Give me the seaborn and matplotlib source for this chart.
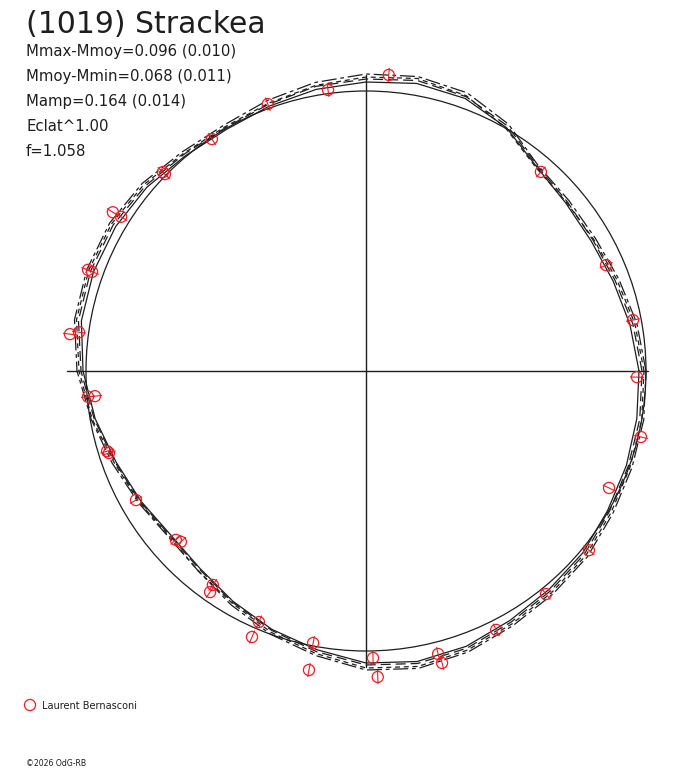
import numpy as np
import seaborn as sns
import matplotlib.pyplot as plt
from matplotlib.collections import LineCollection

# polar lightcurve of (1019) Strackea, radii in pixels, angles in degrees
angles = list(range(0, 360, 10))

curve_solid = [273, 268, 263, 260, 261, 266, 281, 290, 292, 289, 286, 282,
               279, 281, 286, 289, 290, 289, 283, 275, 266, 260, 255, 258,
               266, 275, 283, 292, 295, 293, 288, 285, 283, 279, 277, 275]
curve_dash = [276, 271, 265, 262, 263, 267, 283, 292, 295, 292, 289, 284,
              281, 283, 288, 292, 293, 292, 285, 276, 267, 261, 256, 259,
              267, 276, 285, 294, 297, 295, 290, 287, 285, 281, 279, 278]
curve_dashdot = [280, 275, 269, 265, 265, 268, 285, 296, 299, 297, 293, 288,
                 284, 286, 292, 296, 297, 296, 289, 279, 270, 263, 258, 261,
                 270, 280, 289, 299, 302, 299, 294, 291, 289, 285, 283, 282]
curve_short = [278, 273, 267, 263, 262, 265, 280, 293, 297, 294, 290, 285,
               282, 284, 290, 294, 295, 294, 287, 278, 268, 262, 257, 261,
               268, 278, 287, 297, 300, 297, 292, 289, 287, 283, 281, 280]

mean_radius = 280

# observations: phase angle (deg), radius, half error
obs_angle = [85.6, 97.7, 110.2, 123.6, 135.6, 135.6, 147.9, 147.8, 160.0, 160.1,
             172.9, 172.3, 185.3, 185.3, 197.2, 197.7, 209.3, 221.6, 222.7, 234.4,
             234.8, 246.9, 246.8, 259.0, 259.2, 271.4, 272.2, 284.3, 284.6, 296.7,
             308.9, 321.2, 334.3, 346.5, 358.7, 10.8, 23.8, 48.7]
obs_radius = [296.9, 283.6, 284.4, 278.5, 284.3, 281.4, 298.8, 289.4, 295.8, 291.3,
              298.3, 289.6, 279.2, 272.2, 271.0, 269.8, 263.7, 254.3, 251.9, 263.1,
              270.5, 272.9, 289.4, 277.1, 304.4, 287.1, 306.2, 292.0, 301.7, 289.8,
              286.6, 286.0, 269.7, 282.8, 271.1, 271.8, 262.4, 265.0]
obs_err = 7

title = "(1019) Strackea"
stats = ["Mmax-Mmoy=0.096 (0.010)", "Mmoy-Mmin=0.068 (0.011)",
         "Mamp=0.164 (0.014)", "Eclat^1.00", "f=1.058"]
observer = "Laurent Bernasconi"
credit = "\u00a92026 OdG-RB"

sns.set_theme(style="white")
plt.rcParams['font.family'] = ['DejaVu Sans']

W, H = 688, 768
fig = plt.figure(figsize=(W / 100, H / 100), dpi=100)
ax = fig.add_axes([0, 0, 1, 1])
cx, cy = 366, 371
ax.set_xlim(-cx, W - cx)
ax.set_ylim(cy - H, cy)
ax.axis('off')

ink = '#1e1e1e'

# axes cross
ax.plot([-299, 282], [0, 0], color=ink, lw=1.0)
ax.plot([0, 0], [-296, 296], color=ink, lw=1.0)

# mean circle
ax.add_patch(plt.Circle((0, 0), mean_radius, fill=False, color=ink, lw=0.9))

th = np.deg2rad(angles + [angles[0]])
styles = [(curve_solid, '-'), (curve_dash, (0, (8, 4))),
          (curve_dashdot, (0, (12, 3, 3, 3))), (curve_short, (0, (4, 3)))]
for r, ls in styles:
    rr = np.array(r + [r[0]], dtype=float)
    sns.lineplot(x=rr * np.cos(th), y=rr * np.sin(th), sort=False,
                 estimator=None, ax=ax, color=ink, lw=0.9, linestyle=ls)

# observations with radial error bars
oa = np.deg2rad(obs_angle)
orr = np.array(obs_radius)
ox, oy = orr * np.cos(oa), orr * np.sin(oa)
segs = [[((r - obs_err) * np.cos(a), (r - obs_err) * np.sin(a)),
         ((r + obs_err) * np.cos(a), (r + obs_err) * np.sin(a))]
        for a, r in zip(oa, orr)]
ax.add_collection(LineCollection(segs, colors='#ee1c24', lw=0.8, zorder=5))
ax.scatter(ox, oy, s=64, facecolors='none', edgecolors='#ee1c24', lw=0.9, zorder=5)

# legend marker
ax.scatter([30 - cx], [cy - 705], s=64, facecolors='none', edgecolors='#ee1c24', lw=0.9)

# texts (pixel positions from top-left)
def px_text(x, y, s, size):
    fig.text(x / W, 1 - y / H, s, fontsize=size, color=ink, va='baseline', ha='left')

px_text(26, 33, title, 21.5)
for i, s in enumerate(stats):
    px_text(26, 56 + 25 * i, s, 10.7)
px_text(42, 709, observer, 7)
px_text(26, 766, credit, 5.6)

fig.savefig("out.png", dpi=100)
